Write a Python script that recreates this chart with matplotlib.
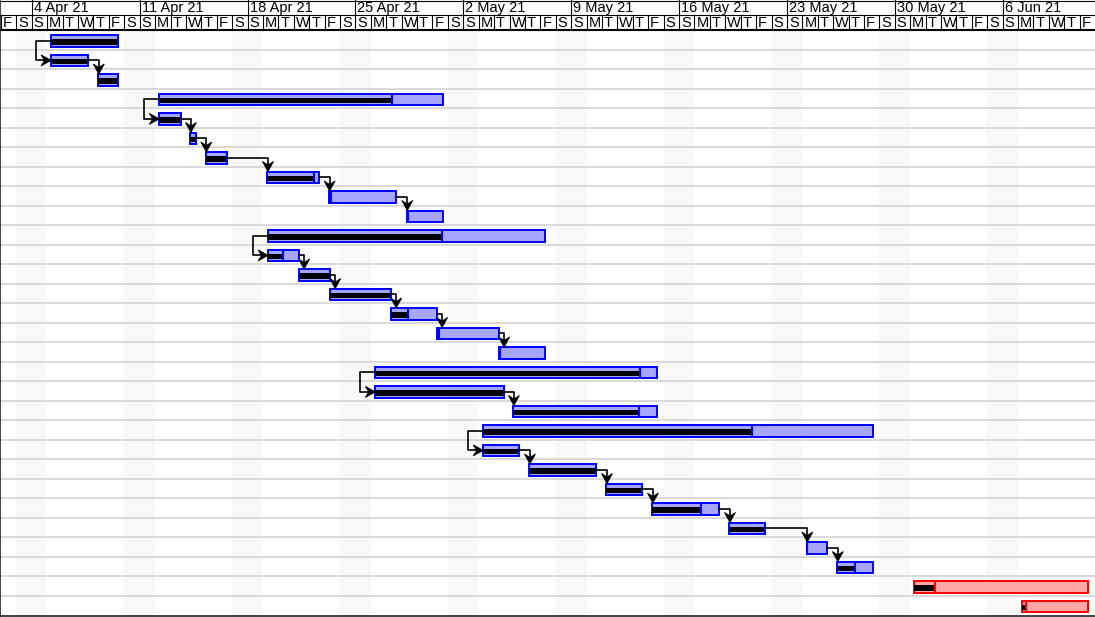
import numpy as np
import pandas as pd
import matplotlib
matplotlib.use("Agg")
import matplotlib.pyplot as plt
from matplotlib.patches import Rectangle, Polygon

plt.rcParams['font.family'] = ['Liberation Sans', 'DejaVu Sans']

# %% data
chart_start = "2021-04-02"
n_days = 71

task_start = [
    "2021-04-05 06:00", "2021-04-05 06:00", "2021-04-08 07:30", "2021-04-12 06:30",
    "2021-04-12 06:30", "2021-04-14 07:00", "2021-04-15 07:00", "2021-04-19 07:00",
    "2021-04-23 07:00", "2021-04-28 08:00", "2021-04-19 08:00", "2021-04-19 08:00",
    "2021-04-21 08:30", "2021-04-23 09:00", "2021-04-27 08:00", "2021-04-30 07:30",
    "2021-05-04 08:00", "2021-04-26 07:00", "2021-04-26 07:00", "2021-05-05 06:00",
    "2021-05-03 07:00", "2021-05-03 07:00", "2021-05-06 07:00", "2021-05-11 07:00",
    "2021-05-14 06:30", "2021-05-19 06:30", "2021-05-24 07:00", "2021-05-26 06:30",
    "2021-05-31 06:30", "2021-06-07 06:30",
]
task_end = [
    "2021-04-09 14:30", "2021-04-07 15:00", "2021-04-09 14:30", "2021-04-30 16:00",
    "2021-04-13 16:00", "2021-04-14 15:00", "2021-04-16 15:30", "2021-04-22 15:00",
    "2021-04-27 14:30", "2021-04-30 16:00", "2021-05-07 07:00", "2021-04-21 07:30",
    "2021-04-23 08:00", "2021-04-27 07:00", "2021-04-30 06:30", "2021-05-04 07:00",
    "2021-05-07 07:00", "2021-05-14 14:00", "2021-05-04 15:00", "2021-05-14 14:00",
    "2021-05-28 14:30", "2021-05-05 15:00", "2021-05-10 15:00", "2021-05-13 15:00",
    "2021-05-18 14:30", "2021-05-21 14:30", "2021-05-25 15:00", "2021-05-28 14:30",
    "2021-06-11 13:30", "2021-06-11 13:30",
]
progress = [100, 100, 100, 82, 100, 100, 100, 91, 3, 3,
            63, 50, 100, 100, 37, 3, 1, 94, 100, 87,
            69, 100, 100, 100, 73, 100, 2, 50, 12, 5]
task_status = ["normal"] * 28 + ["late"] * 2
# predecessor -> successor (row numbers, 1-based)
dependencies = [(1, 2), (2, 3), (4, 5), (5, 6), (6, 7), (7, 8), (8, 9), (9, 10),
                (11, 12), (12, 13), (13, 14), (14, 15), (15, 16), (16, 17),
                (18, 19), (19, 20), (21, 22), (22, 23), (23, 24), (24, 25),
                (25, 26), (26, 27), (27, 28)]

# %% layout (pixels)
W, H = 1095, 617
DAY_PX = 15.41
HEADER = 30.0
ROW_H = 19.5
BAR_OFF, BAR_H = 5.0, 11.8
PROG_OFF, PROG_H = 9.2, 5.6
styles = {"normal": ("#a6a6ff", "#0000ff"), "late": ("#ffa6a6", "#ff0000")}

t0 = pd.Timestamp(chart_start)
def to_day(s):
    return (pd.Timestamp(s) - t0) / pd.Timedelta(days=1)

xs = np.array([to_day(s) for s in task_start])
xe = np.array([to_day(s) for s in task_end])
px = 1.0 / DAY_PX  # one pixel in days

fig = plt.figure(figsize=(W / 100, H / 100), dpi=100)
ax = fig.add_axes([0, 0, 1, 1])
ax.set_xlim(-1 * px, W * px - 1 * px)
ax.set_ylim(H, 0)
ax.axis("off")

days = pd.date_range(t0, periods=n_days, freq="D")
letters = ["M", "T", "W", "T", "F", "S", "S"]
body_bottom = HEADER + ROW_H * len(task_start)

# %% weekend shading + row lines
for d, day in enumerate(days):
    if day.weekday() >= 5:
        ax.add_patch(Rectangle((d, HEADER), 1, body_bottom - HEADER,
                               facecolor="#f8f8f8", edgecolor="none", zorder=0))
for i in range(1, len(task_start)):
    y = HEADER + ROW_H * i
    ax.plot([-1 * px, W * px], [y, y], color="#d3d3d3", lw=1.2, zorder=1)

# %% header
ax.plot([-1 * px, W * px], [0.5, 0.5], color="black", lw=0.8)
ax.plot([-1 * px, W * px], [15, 15], color="black", lw=0.8)
ax.plot([-1 * px, W * px], [30.2, 30.2], color="black", lw=1.5)
for d, day in enumerate(days):
    ax.plot([d, d], [15, 30], color="black", lw=0.8)
    ax.text(d + 2 * px, 23.4, letters[day.weekday()], fontsize=10.5,
            va="center", ha="left")
    if day.weekday() == 6:
        ax.plot([d, d], [0, 15], color="black", lw=0.8)
        ax.text(d + 2 * px, 7.8, f"{day.day} {day.strftime('%b %y')}",
                fontsize=10.5, va="center", ha="left")
ax.plot([-0.5 * px, -0.5 * px], [0, H], color="#222222", lw=1.2)
ax.plot([-1 * px, W * px], [616, 616], color="#222222", lw=1.2)

# %% bars
for i in range(len(task_start)):
    fill, edge = styles[task_status[i]]
    top = HEADER + ROW_H * i + BAR_OFF
    ax.add_patch(Rectangle((xs[i], top), xe[i] - xs[i], BAR_H,
                           facecolor=fill, edgecolor=edge, lw=1.4, zorder=4))
    xp = xs[i] + (xe[i] - xs[i]) * progress[i] / 100
    ax.add_patch(Rectangle((xs[i], HEADER + ROW_H * i + PROG_OFF), xp - xs[i], PROG_H,
                           facecolor="black", edgecolor="none", zorder=5))
    ax.plot([xp, xp], [top, top + BAR_H], color=edge, lw=1.5, zorder=6)

# %% dependency arrows
def head(tip_x, tip_y, direction):
    L, Wd, N = 10.0, 5.5, 6.5
    if direction == "down":
        pts = [(tip_x, tip_y), (tip_x - Wd * px, tip_y - L), (tip_x, tip_y - N),
               (tip_x + Wd * px, tip_y - L)]
    else:
        pts = [(tip_x, tip_y), (tip_x - L * px, tip_y - Wd), (tip_x - N * px, tip_y),
               (tip_x - L * px, tip_y + Wd)]
    ax.add_patch(Polygon(pts, closed=True, facecolor="black", edgecolor="black",
                         lw=0.6, zorder=7))

for a, b in dependencies:
    a, b = a - 1, b - 1
    ya = HEADER + ROW_H * a + BAR_OFF + BAR_H / 2
    yb_mid = HEADER + ROW_H * b + BAR_OFF + BAR_H / 2
    yb_top = HEADER + ROW_H * b + BAR_OFF
    if xs[b] >= xe[a] - 0.01:
        xv = max(xs[b] + 0.5 * px, xe[a] + 5.5 * px)
        ax.plot([xe[a], xv, xv], [ya, ya, yb_top - 4], color="black", lw=1.2, zorder=6)
        head(xv, yb_top, "down")
    else:
        xh = xs[a] - 15 * px
        ax.plot([xs[a], xh, xh, xs[b] - 4 * px], [ya, ya, yb_mid, yb_mid],
                color="black", lw=1.2, zorder=6)
        head(xs[b], yb_mid, "right")

fig.savefig("out.png", dpi=100)
